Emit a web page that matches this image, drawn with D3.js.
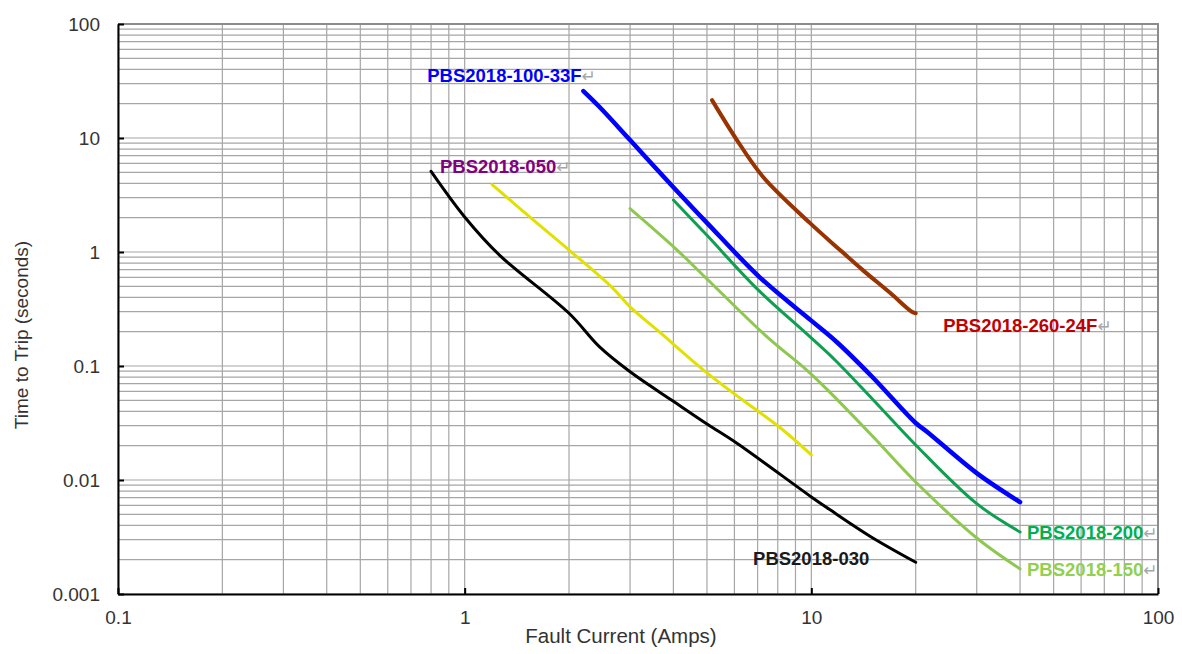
<!DOCTYPE html>
<html>
<head>
<meta charset="utf-8">
<script src="https://cdn.jsdelivr.net/npm/d3@7"></script>
<style>
    body { margin: 0; background: #fff; }
    svg { font-family: "Liberation Sans", Arial, sans-serif; }
    .grid line { stroke: #a6a6a6; stroke-width: 1.2; }
    .curve { fill: none; stroke-linecap: round; stroke-linejoin: round; }
    .lbl { font-weight: bold; font-size: 18.5px; }
    .ret { fill: #a6a6a6; font-weight: normal; font-size: 17px; font-family: "DejaVu Sans", sans-serif; }
</style>
</head>
<body>
<svg id="chart" width="1182" height="654"></svg>
<script>
// tick labels
var xTicks = [0.1, 1, 10, 100];
var xTickLabels = ["0.1", "1", "10", "100"];
var yTicks = [100, 10, 1, 0.1, 0.01, 0.001];
var yTickLabels = ["100", "10", "1", "0.1", "0.01", "0.001"];

// curves (current in amps, time in seconds)
var pbs030X = [0.8, 1, 1.26, 2, 2.45, 3, 4, 5, 6.1, 10, 11.3, 14.8, 20];
var pbs030Y = [5.1, 2.03, 0.94, 0.29, 0.147, 0.089, 0.049, 0.031, 0.021, 0.0071, 0.0055, 0.0032, 0.0019];

var pbs050X = [1.2, 1.54, 2, 2.66, 3, 3.59, 5, 6.35, 8.1, 10];
var pbs050Y = [3.9, 2.03, 1.04, 0.49, 0.33, 0.207, 0.087, 0.05, 0.029, 0.0166];

var pbs150X = [3, 4.1, 5, 7.45, 9.7, 11.3, 15, 20, 30, 40];
var pbs150Y = [2.4, 1.04, 0.58, 0.18, 0.092, 0.059, 0.0243, 0.0096, 0.0031, 0.00166];

var pbs200X = [4, 5, 7, 9.9, 11.7, 15, 20, 30, 40];
var pbs200Y = [2.86, 1.4, 0.47, 0.181, 0.113, 0.0514, 0.0203, 0.0062, 0.0035];

var pbs100X = [2.2, 2.45, 3, 4, 5, 7.1, 10, 11.9, 15, 20, 21.6, 30, 40];
var pbs100Y = [25.8, 18.7, 9.6, 3.7, 1.8, 0.6, 0.25, 0.16, 0.08, 0.0316, 0.0264, 0.0115, 0.0064];

var pbs260X = [5.17, 6.1, 7.26, 9.9, 12.1, 14.1, 16.9, 19.5, 20];
var pbs260Y = [21.5, 9.6, 4.55, 1.8, 1.04, 0.69, 0.436, 0.299, 0.29];

// labels (text, anchor in data units)
var labelNames = ["PBS2018-100-33F", "PBS2018-050", "PBS2018-260-24F", "PBS2018-200", "PBS2018-150", "PBS2018-030"];
var labelX = [0.78, 0.849, 24, 41.9, 41.9, 6.79];
var labelY = [31, 4.93, 0.199, 0.00303, 0.00144, 0.00179];
var labelColors = ["#0000ff", "#800080", "#c00000", "#00b050", "#92d050", "#1a1a1a"];
var labelReturn = [true, true, true, true, true, false];

var series = [
    {x: pbs030X, y: pbs030Y, color: "#000000", w: 3},
    {x: pbs050X, y: pbs050Y, color: "#e2e000", w: 3},
    {x: pbs150X, y: pbs150Y, color: "#8fc850", w: 3},
    {x: pbs200X, y: pbs200Y, color: "#0f9f50", w: 3},
    {x: pbs100X, y: pbs100Y, color: "#0000ff", w: 4.5},
    {x: pbs260X, y: pbs260Y, color: "#993300", w: 4}
];

var margin = {top: 24, right: 24, bottom: 60, left: 118},
        width = 1182 - margin.left - margin.right,
        height = 654 - margin.top - margin.bottom;

var svg = d3.select("#chart")
        .append("g")
        .attr("transform", "translate(" + margin.left + "," + margin.top + ")");

var x = d3.scaleLog().domain([0.1, 100]).range([0, width]);
var y = d3.scaleLog().domain([0.001, 100]).range([height, 0]);

// minor + major grid positions
var xGrid = [], yGrid = [];
[0.1, 1, 10].forEach(function (d) {
    for (var k = 1; k < 10; k++) xGrid.push(d * k);
});
xGrid.push(100);
[0.001, 0.01, 0.1, 1, 10].forEach(function (d) {
    for (var k = 1; k < 10; k++) yGrid.push(d * k);
});
yGrid.push(100);

var grid = svg.append("g").attr("class", "grid");
grid.selectAll("line.v")
        .data(xGrid)
        .enter()
        .append("line")
        .attr("class", "v")
        .attr("x1", function (d) { return x(d); })
        .attr("x2", function (d) { return x(d); })
        .attr("y1", 0)
        .attr("y2", height);
grid.selectAll("line.h")
        .data(yGrid)
        .enter()
        .append("line")
        .attr("class", "h")
        .attr("x1", 0)
        .attr("x2", width)
        .attr("y1", function (d) { return y(d); })
        .attr("y2", function (d) { return y(d); });

// darker frame on top and right
svg.append("path")
        .attr("d", "M0," + y(100) + "H" + x(100) + "V" + height)
        .attr("fill", "none")
        .attr("stroke", "#8c8c8c")
        .attr("stroke-width", 2);

// axes
var xAxis = d3.axisBottom(x)
        .tickValues(xTicks)
        .tickFormat(function (d, i) { return xTickLabels[i]; })
        .tickSizeInner(-6)
        .tickSizeOuter(0)
        .tickPadding(17);
var yAxis = d3.axisLeft(y)
        .tickValues(yTicks)
        .tickFormat(function (d, i) { return yTickLabels[i]; })
        .tickSizeInner(-6)
        .tickSizeOuter(0)
        .tickPadding(18);

[svg.append("g").attr("transform", "translate(0," + height + ")").call(xAxis),
    svg.append("g").call(yAxis)].forEach(function (g) {
    g.selectAll("path.domain").attr("stroke", "#000").attr("stroke-width", 2);
    g.selectAll(".tick line").attr("stroke", "#000").attr("stroke-width", 2);
    g.selectAll(".tick text")
            .attr("fill", "#333")
            .style("font-size", "19px")
            .style("font-family", "Liberation Sans, Arial, sans-serif");
});

// curves
var line = d3.line()
        .x(function (d) { return x(d[0]); })
        .y(function (d) { return y(d[1]); })
        .curve(d3.curveCatmullRom.alpha(0.5));

series.forEach(function (s) {
    var pts = s.x.map(function (v, i) { return [v, s.y[i]]; });
    svg.append("path")
            .datum(pts)
            .attr("class", "curve")
            .attr("d", line)
            .attr("stroke", s.color)
            .attr("stroke-width", s.w);
});

// curve labels
labelNames.forEach(function (name, i) {
    var t = svg.append("text")
            .attr("class", "lbl")
            .attr("x", x(labelX[i]))
            .attr("y", y(labelY[i]))
            .attr("fill", labelColors[i]);
    t.append("tspan").text(name);
    if (labelReturn[i]) t.append("tspan").attr("class", "ret").text("\u21b5");
});

// axis titles
svg.append("text")
        .attr("x", 503)
        .attr("y", 619)
        .attr("text-anchor", "middle")
        .attr("fill", "#333")
        .style("font-size", "20.5px")
        .text("Fault Current (Amps)");

svg.append("text")
        .attr("transform", "translate(" + (-90) + "," + 311 + ") rotate(-90)")
        .attr("text-anchor", "middle")
        .attr("fill", "#333")
        .style("font-size", "19px")
        .text("Time to Trip (seconds)");
</script>
</body>
</html>
